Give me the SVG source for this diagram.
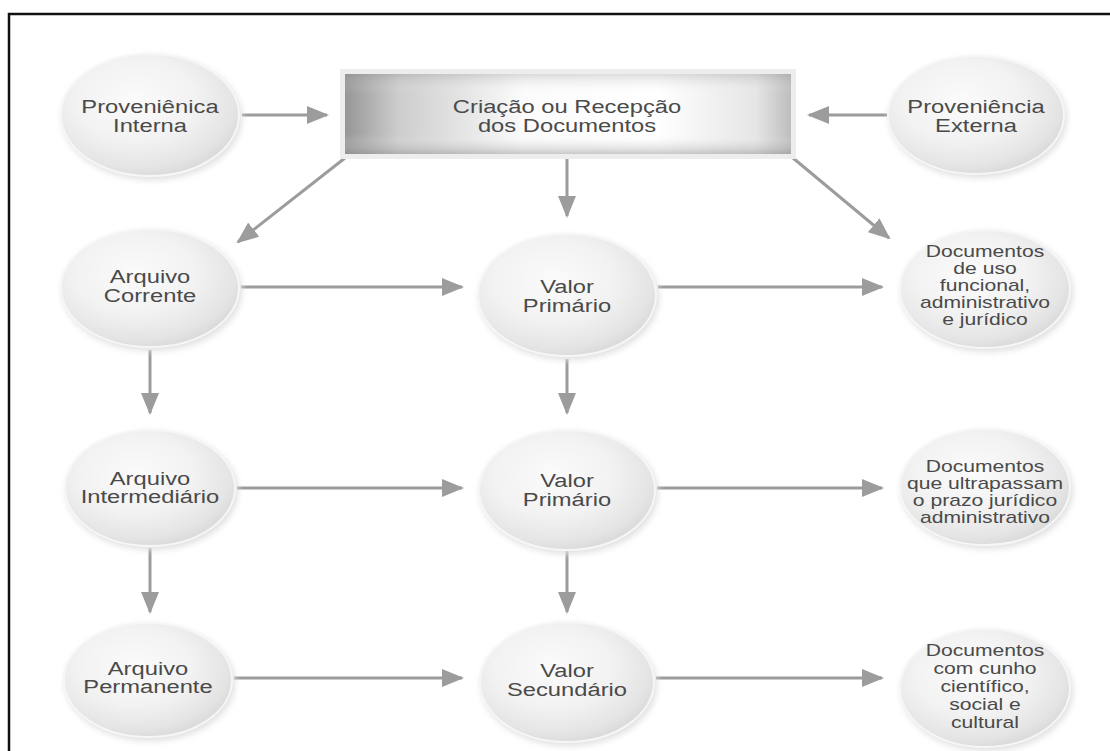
<svg xmlns="http://www.w3.org/2000/svg" width="1110" height="751" viewBox="0 0 1110 751">
  <defs>
    <radialGradient id="ballFill" cx="0.42" cy="0.38" r="0.62">
      <stop offset="0" stop-color="#fbfbfb"/>
      <stop offset="0.55" stop-color="#f2f2f2"/>
      <stop offset="0.9" stop-color="#e4e4e4"/>
      <stop offset="1" stop-color="#dcdcdc"/>
    </radialGradient>
    <linearGradient id="boxH" x1="0" y1="0" x2="1" y2="0">
      <stop offset="0" stop-color="#969696"/>
      <stop offset="0.12" stop-color="#cdcdcd"/>
      <stop offset="0.4" stop-color="#fbfbfb"/>
      <stop offset="0.7" stop-color="#ffffff"/>
      <stop offset="0.92" stop-color="#e6e6e6"/>
      <stop offset="1" stop-color="#bdbdbd"/>
    </linearGradient>
    <linearGradient id="boxV" x1="0" y1="0" x2="0" y2="1">
      <stop offset="0" stop-color="#8f8f8f" stop-opacity="0.3"/>
      <stop offset="0.25" stop-color="#ffffff" stop-opacity="0"/>
      <stop offset="0.75" stop-color="#ffffff" stop-opacity="0"/>
      <stop offset="1" stop-color="#8a8a8a" stop-opacity="0.45"/>
    </linearGradient>
    <filter id="soft" x="-20%" y="-20%" width="140%" height="140%">
      <feGaussianBlur stdDeviation="3"/>
    </filter>
    <marker id="head" viewBox="0 0 22 18" refX="20" refY="9" markerWidth="22" markerHeight="18" markerUnits="userSpaceOnUse" orient="auto">
      <path d="M0,0 L22,9 L0,18 Z" fill="#9c9c9c"/>
    </marker>
  </defs>
  <style>
    .frame { stroke: #111; stroke-width: 2.5; fill: none; }
    .halo { fill: #e0e0e0; filter: url(#soft); }
    .ball { fill: url(#ballFill); stroke: #f6f6f6; stroke-width: 2; }
    .lbl { font-family: "Liberation Sans", Arial, sans-serif; font-size: 18px; fill: #4a4a4a; text-anchor: middle; }
    .small { font-size: 16px; }
    .link { stroke: #9c9c9c; stroke-width: 3; fill: none; marker-end: url(#head); }
  </style>

  <rect width="1110" height="751" fill="#ffffff"/>
  <path class="frame" d="M9,751 L9,14 L1110,14"/>

  <!-- connectors -->
  <g id="connectors">
    <line class="link" x1="242" y1="115" x2="327" y2="115"/>
    <line class="link" x1="888" y1="115" x2="809" y2="115"/>
    <line class="link" x1="345" y1="158" x2="238" y2="242"/>
    <line class="link" x1="567" y1="158" x2="567" y2="216"/>
    <line class="link" x1="793" y1="158" x2="889" y2="238"/>
    <line class="link" x1="241" y1="287" x2="462" y2="287"/>
    <line class="link" x1="658" y1="287" x2="882" y2="287"/>
    <line class="link" x1="150" y1="350" x2="150" y2="413"/>
    <line class="link" x1="567" y1="359" x2="567" y2="413"/>
    <line class="link" x1="237" y1="488" x2="462" y2="488"/>
    <line class="link" x1="657" y1="488" x2="882" y2="488"/>
    <line class="link" x1="150" y1="548" x2="150" y2="612"/>
    <line class="link" x1="567" y1="551" x2="567" y2="612"/>
    <line class="link" x1="234" y1="678" x2="462" y2="678"/>
    <line class="link" x1="656" y1="678" x2="882" y2="678"/>
  </g>

  <!-- source nodes -->
  <g id="proveniencia-interna">
    <ellipse class="halo" cx="152" cy="118" rx="90" ry="62"/>
    <ellipse class="ball" cx="150" cy="115" rx="89" ry="61"/>
    <text class="lbl" transform="translate(150 0) scale(1.32 1)"><tspan x="0" y="113">Proveniênica</tspan><tspan x="0" y="132">Interna</tspan></text>
  </g>

  <g id="criacao">
    <rect x="340" y="69" width="456" height="90" fill="#ededed"/>
    <rect x="345" y="74" width="446" height="80" fill="url(#boxH)"/>
    <rect x="345" y="74" width="446" height="80" fill="url(#boxV)"/>
    <text class="lbl" transform="translate(567 0) scale(1.32 1)"><tspan x="0" y="113">Criação ou Recepção</tspan><tspan x="0" y="132">dos Documentos</tspan></text>
  </g>

  <g id="proveniencia-externa">
    <ellipse class="halo" cx="978" cy="118" rx="89" ry="60"/>
    <ellipse class="ball" cx="976" cy="115" rx="88" ry="59"/>
    <text class="lbl" transform="translate(976 0) scale(1.32 1)"><tspan x="0" y="113">Proveniência</tspan><tspan x="0" y="132">Externa</tspan></text>
  </g>

  <!-- row: current archive -->
  <g id="arquivo-corrente">
    <ellipse class="halo" cx="152" cy="291" rx="90" ry="60"/>
    <ellipse class="ball" cx="150" cy="288" rx="89" ry="59"/>
    <text class="lbl" transform="translate(150 0) scale(1.32 1)"><tspan x="0" y="283">Arquivo</tspan><tspan x="0" y="302">Corrente</tspan></text>
  </g>

  <g id="valor-primario-1">
    <ellipse class="halo" cx="569" cy="298" rx="90" ry="62"/>
    <ellipse class="ball" cx="567" cy="295" rx="89" ry="61"/>
    <text class="lbl" transform="translate(567 0) scale(1.32 1)"><tspan x="0" y="293">Valor</tspan><tspan x="0" y="312">Primário</tspan></text>
  </g>

  <g id="uso-funcional">
    <ellipse class="halo" cx="987" cy="292" rx="86" ry="60"/>
    <ellipse class="ball" cx="985" cy="289" rx="85" ry="59"/>
    <text class="lbl small" transform="translate(985 0) scale(1.32 1)"><tspan x="0" y="257">Documentos</tspan><tspan x="0" y="274">de uso</tspan><tspan x="0" y="291">funcional,</tspan><tspan x="0" y="308">administrativo</tspan><tspan x="0" y="325">e jurídico</tspan></text>
  </g>

  <!-- row: intermediate archive -->
  <g id="arquivo-intermediario">
    <ellipse class="halo" cx="152" cy="491" rx="86" ry="59"/>
    <ellipse class="ball" cx="150" cy="488" rx="85" ry="58"/>
    <text class="lbl" transform="translate(150 0) scale(1.32 1)"><tspan x="0" y="485">Arquivo</tspan><tspan x="0" y="503">Intermediário</tspan></text>
  </g>

  <g id="valor-primario-2">
    <ellipse class="halo" cx="569" cy="493" rx="89" ry="61"/>
    <ellipse class="ball" cx="567" cy="490" rx="88" ry="60"/>
    <text class="lbl" transform="translate(567 0) scale(1.32 1)"><tspan x="0" y="487">Valor</tspan><tspan x="0" y="506">Primário</tspan></text>
  </g>

  <g id="prazo-juridico">
    <ellipse class="halo" cx="987" cy="490" rx="86" ry="59"/>
    <ellipse class="ball" cx="985" cy="487" rx="85" ry="58"/>
    <text class="lbl small" transform="translate(985 0) scale(1.32 1)"><tspan x="0" y="472">Documentos</tspan><tspan x="0" y="489">que ultrapassam</tspan><tspan x="0" y="506">o prazo jurídico</tspan><tspan x="0" y="523">administrativo</tspan></text>
  </g>

  <!-- row: permanent archive -->
  <g id="arquivo-permanente">
    <ellipse class="halo" cx="150" cy="683" rx="85" ry="58"/>
    <ellipse class="ball" cx="148" cy="680" rx="84" ry="57"/>
    <text class="lbl" transform="translate(148 0) scale(1.32 1)"><tspan x="0" y="675">Arquivo</tspan><tspan x="0" y="693">Permanente</tspan></text>
  </g>

  <g id="valor-secundario">
    <ellipse class="halo" cx="569" cy="685" rx="88" ry="61"/>
    <ellipse class="ball" cx="567" cy="682" rx="87" ry="60"/>
    <text class="lbl" transform="translate(567 0) scale(1.32 1)"><tspan x="0" y="677">Valor</tspan><tspan x="0" y="696">Secundário</tspan></text>
  </g>

  <g id="cunho-cientifico">
    <ellipse class="halo" cx="987" cy="691" rx="86" ry="60"/>
    <ellipse class="ball" cx="985" cy="688" rx="85" ry="59"/>
    <text class="lbl small" transform="translate(985 0) scale(1.32 1)"><tspan x="0" y="656">Documentos</tspan><tspan x="0" y="674">com cunho</tspan><tspan x="0" y="692">científico,</tspan><tspan x="0" y="710">social e</tspan><tspan x="0" y="728">cultural</tspan></text>
  </g>
</svg>
